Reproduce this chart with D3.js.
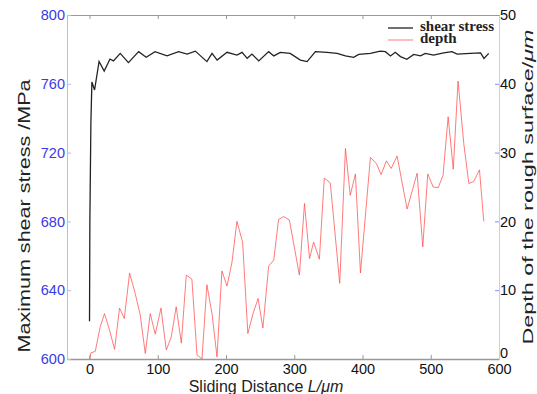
<!DOCTYPE html>
<html>
<head>
<meta charset="utf-8">
<script src="https://cdn.jsdelivr.net/npm/d3@7"></script>
<style>
  body { margin: 0; background: #fff; }
  text { font-family: "Liberation Sans", Arial, sans-serif; }
</style>
</head>
<body>
<div id="graph"></div>
<script>
// shear stress series (MPa) vs sliding distance (um)
const stressX = [0, 0.5, 2, 3.5, 7.4, 14, 21.5, 30, 35, 45, 57, 72, 83, 96, 113.5, 130.5, 143, 155, 172, 179.5,
    187, 201.5, 216, 223.5, 231, 238, 248, 262.5, 270, 279.5, 294, 309, 318.8, 331, 348, 362.8, 375, 387,
    394.5, 411.6, 426, 433.5, 441, 448, 455.6, 465, 475, 485, 492, 504, 519, 531, 538.7, 558, 573, 578, 585]
const stressY = [622, 680, 737, 761, 756.4, 773, 767.4, 774.4, 773.3, 777.7, 772.3, 778.7, 775.4, 778.7, 776.3,
    778.7, 777.3, 779, 772.9, 777.7, 773.8, 778.3, 776.7, 778.3, 774.8, 777.3, 773.3, 778.7, 776.2, 778.3,
    777.7, 773.8, 772.9, 778.7, 778.3, 777.7, 776.2, 775.4, 777.1, 777.7, 779, 778.7, 776.2, 778.3, 775.8,
    774.2, 777.1, 776.2, 777.7, 776.7, 778, 778.7, 777.3, 777.7, 778, 774.8, 777.7]

// depth of the rough surface (um)
const depthX = [0, 2, 8.4, 15.7, 22, 29.3, 36.7, 44, 51, 58.7, 67, 74.3, 81.7, 89, 96.3, 104.7, 112.5, 119.8,
    127, 134.5, 141.8, 150, 157.5, 164.8, 172, 179.5, 186.8, 194, 201.5, 208.8, 216, 224.3, 232, 239.6, 247,
    254, 262.5, 270, 277, 284.5, 292.8, 300, 307.5, 315, 322.4, 328.4, 336.8, 344, 352.8, 366.6, 375, 382,
    389.6, 397, 411.6, 420.4, 427.3, 435, 442, 450.7, 465.4, 480, 488.3, 495.6, 503.5, 510.9, 518, 525.5,
    533, 540, 548.4, 555.8, 563, 571.4, 577.7]
const depthY = [0, 0.9, 1.1, 4.7, 6.6, 4.2, 1.4, 7.4, 5.9, 12.5, 9.5, 6.4, 0.8, 6.6, 3.6, 7.4, 1.3, 3.2,
    7.6, 2.3, 12.2, 11.6, 0.6, 0, 10.8, 6.6, 0.3, 12.8, 10.6, 14.1, 20, 17, 3.7, 6.6, 8.8,
    4.5, 13.5, 14.4, 20.3, 20.7, 20.2, 16.3, 12.2, 22.6, 14.6, 17, 14.5, 26.3, 25.6, 11, 30.6, 23.8,
    26.9, 12.5, 29.3, 28.4, 26.8, 28.8, 27.7, 29.5, 21.8, 27, 16.3, 26.9, 25, 24.9, 26.7, 35.2,
    27.6, 40.4, 31.3, 25.5, 25.8, 27.5, 20]

const xTicks = [0, 100, 200, 300, 400, 500, 600]
const stressTicks = [600, 640, 680, 720, 760, 800]
const depthTicks = [0, 10, 20, 30, 40, 50]

const width = 537
const height = 394
const margin = {top: 15, right: 38, bottom: 35, left: 67}
const innerWidth = width - margin.left - margin.right
const innerHeight = height - margin.top - margin.bottom

const xScale = d3.scaleLinear().domain([-33, 600]).range([0, innerWidth])
const yLeft = d3.scaleLinear().domain([600, 800]).range([innerHeight, 0])
const yRight = d3.scaleLinear().domain([0, 50]).range([innerHeight, 0])

const svg = d3.select("#graph")
    .append("svg")
    .attr("width", width)
    .attr("height", height)

const graph = svg.append("g")
    .attr("transform", `translate(${margin.left}, ${margin.top})`)

// top frame with inward ticks
graph.append("g")
    .call(d3.axisTop(xScale).tickValues(xTicks).tickSize(-4).tickFormat(""))
    .call(g => g.selectAll("line, path").attr("stroke", "#999"))

const xAxis = graph.append("g")
    .attr("transform", `translate(0, ${innerHeight})`)
    .call(d3.axisBottom(xScale).tickValues(xTicks).tickSizeInner(-4).tickSizeOuter(0).tickPadding(5))
xAxis.selectAll("line, path").attr("stroke", "#999")
xAxis.selectAll("text").attr("font-size", 14.5).attr("fill", "#111")
xAxis.select(".domain").attr("stroke-width", 1.5)

const leftAxis = graph.append("g")
    .call(d3.axisLeft(yLeft).tickValues(stressTicks).tickSizeInner(-4).tickSizeOuter(0).tickPadding(2))
leftAxis.selectAll("line, path").attr("stroke", "#b8b8ff")
leftAxis.selectAll("text").attr("font-size", 14.5).attr("fill", "#3a3ae8")

const rightAxis = graph.append("g")
    .attr("transform", `translate(${innerWidth}, 0)`)
    .call(d3.axisRight(yRight).tickValues(depthTicks).tickSizeInner(-4).tickSizeOuter(0).tickPadding(1))
rightAxis.selectAll("line").attr("stroke", "#8a8aff")
rightAxis.select(".domain").attr("stroke", "#b5e3b5")
rightAxis.selectAll("text").attr("font-size", 14.5).attr("fill", "#111")
rightAxis.selectAll("text").filter(d => d === 0).attr("dy", "-0.1em")

const depthLine = d3.line()
    .x((d, i) => xScale(depthX[i]))
    .y(d => yRight(d))

graph.append("path")
    .datum(depthY)
    .attr("fill", "none")
    .attr("stroke", "#ff4d4d")
    .attr("stroke-opacity", 0.75)
    .attr("stroke-width", 1)
    .attr("d", depthLine)

const stressLine = d3.line()
    .x((d, i) => xScale(stressX[i]))
    .y(d => yLeft(d))

graph.append("path")
    .datum(stressY)
    .attr("fill", "none")
    .attr("stroke", "#222")
    .attr("stroke-width", 1.3)
    .attr("d", stressLine)

// legend
const serif = "'Liberation Serif', 'Times New Roman', serif"
const legend = graph.append("g").attr("transform", `translate(${388 - margin.left}, ${28 - margin.top})`)
legend.append("line").attr("x1", 0).attr("x2", 25).attr("y1", 0).attr("y2", 0)
    .attr("stroke", "#222").attr("stroke-width", 1.3)
legend.append("line").attr("x1", 0).attr("x2", 25).attr("y1", 12).attr("y2", 12)
    .attr("stroke", "#ff4d4d").attr("stroke-opacity", 0.75)
legend.append("text").attr("x", 32).attr("y", 3).text("shear stress")
    .style("font-family", serif).attr("font-size", 15).attr("font-weight", "bold").attr("fill", "#222")
legend.append("text").attr("x", 32).attr("y", 15).text("depth")
    .style("font-family", serif).attr("font-size", 15).attr("font-weight", "bold").attr("fill", "#222")

// axis labels
const xLabel = svg.append("text")
    .attr("x", 266)
    .attr("y", 392)
    .attr("text-anchor", "middle")
    .attr("font-size", 16)
    .attr("fill", "#222")
xLabel.append("tspan").text("Sliding Distance ")
xLabel.append("tspan").attr("font-style", "italic").text("L/μm")

svg.append("text")
    .attr("transform", "translate(30, 216) rotate(-90)")
    .attr("text-anchor", "middle")
    .attr("font-size", 16)
    .attr("textLength", 273)
    .attr("lengthAdjust", "spacingAndGlyphs")
    .attr("fill", "#222")
    .text("Maximum shear stress /MPa")

const rLabel = svg.append("text")
    .attr("transform", "translate(533, 187) rotate(-90)")
    .attr("text-anchor", "middle")
    .attr("font-size", 15)
    .attr("textLength", 315)
    .attr("lengthAdjust", "spacingAndGlyphs")
    .attr("fill", "#222")
rLabel.append("tspan").text("Depth of the rough surface/")
rLabel.append("tspan").attr("font-style", "italic").text("μm")
</script>
</body>
</html>
